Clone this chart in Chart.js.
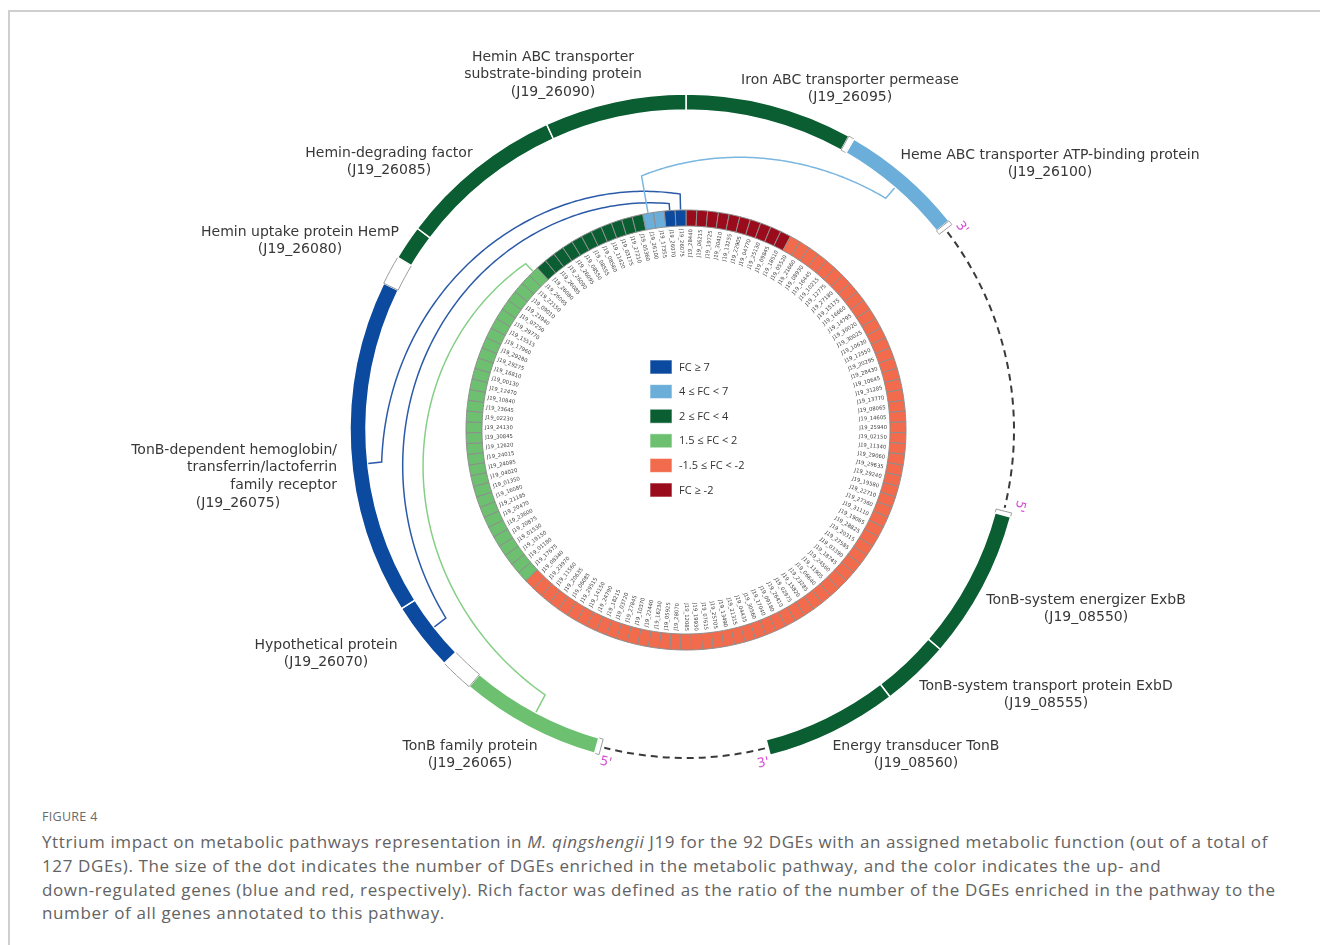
<!DOCTYPE html>
<html>
<head>
<meta charset="utf-8">
<script src="https://cdn.jsdelivr.net/npm/chart.js@4.4.1/dist/chart.umd.min.js"></script>
<style>
  html, body { margin: 0; padding: 0; background: #ffffff; }
  body { width: 1320px; height: 945px; position: relative; overflow: hidden; font-family: "Open Sans", sans-serif; }
  .frame { position: absolute; left: 8px; top: 10px; width: 1340px; height: 980px;
           border-top: 2px solid #cfcfcf; border-left: 2px solid #cfcfcf; }
  #wrap { position: absolute; left: 0; top: 0; width: 1320px; height: 800px; }
  .figno { position: absolute; left: 42px; top: 808px; font-size: 12.5px; color: #6a6a6a; letter-spacing: 0.3px; }
  .caption { position: absolute; left: 42px; top: 830px; font-size: 17px; letter-spacing: 0.62px; line-height: 23.8px; color: #636363; white-space: nowrap; }
</style>
</head>
<body>
<div class="frame"></div>
<div id="wrap"><canvas id="ring"></canvas></div>
<div class="figno">FIGURE 4</div>
<div class="caption">
Yttrium impact on metabolic pathways representation in <i>M. qingshengii</i> J19 for the 92 DGEs with an assigned metabolic function (out of a total of<br>
127 DGEs). The size of the dot indicates the number of DGEs enriched in the metabolic pathway, and the color indicates the up- and<br>
down-regulated genes (blue and red, respectively). Rich factor was defined as the ratio of the number of the DGEs enriched in the pathway to the<br>
number of all genes annotated to this pathway.
</div>

<script>
// ---------- fold-change classes ----------
const fcClasses = ['fc7', 'fc4', 'fc2', 'fc15', 'down15', 'down2'];
const fcLegend  = ['FC \u2265 7', '4 \u2264 FC < 7', '2 \u2264 FC < 4', '1.5 \u2264 FC < 2', '-1.5 \u2264 FC < -2', 'FC \u2265 -2'];
const fcColors  = { fc7: '#0b4a9e', fc4: '#6aaed9', fc2: '#0b5d32', fc15: '#6cc070', down15: '#f26b4c', down2: '#9a0b1b' };

// ---------- outer ring: gene clusters (clockwise from 12 o'clock) ----------
// span of each piece in degrees; 'gap' pieces are intergenic stretches shown dashed,
// 'blank' pieces are genes outside the DGE set.
const outerSpanDeg = [29, 1, 21.5, 0.8, 52, 0.7, 25.8, 11.8, 22.9, 29.5, 0.8, 24.4, 5.8, 11.9, 58, 5, 6, 28.6, 24.5];
const outerClass   = ['fc2', 'blank', 'fc4', 'blank', 'gap', 'blank', 'fc2', 'fc2', 'fc2', 'gap', 'blank', 'fc15', 'blank', 'fc7', 'fc7', 'blank', 'fc2', 'fc2', 'fc2'];
const outerGene    = ['J19_26095', '', 'J19_26100', '', '', '', 'J19_08550', 'J19_08555', 'J19_08560', '', '', 'J19_26065', '', 'J19_26070', 'J19_26075', '', 'J19_26080', 'J19_26085', 'J19_26090'];

// gene product names shown around the ring
const productLines = {
  'J19_26090': ['Hemin ABC transporter', 'substrate-binding protein', '(J19_26090)'],
  'J19_26095': ['Iron ABC transporter permease', '(J19_26095)'],
  'J19_26100': ['Heme ABC transporter ATP-binding protein', '(J19_26100)'],
  'J19_26085': ['Hemin-degrading factor', '(J19_26085)'],
  'J19_26080': ['Hemin uptake protein HemP', '(J19_26080)'],
  'J19_26075': ['TonB-dependent hemoglobin/', 'transferrin/lactoferrin', 'family receptor', '(J19_26075)'],
  'J19_26070': ['Hypothetical protein', '(J19_26070)'],
  'J19_26065': ['TonB family protein', '(J19_26065)'],
  'J19_08560': ['Energy transducer TonB', '(J19_08560)'],
  'J19_08555': ['TonB-system transport protein ExbD', '(J19_08555)'],
  'J19_08550': ['TonB-system energizer ExbB', '(J19_08550)']
};

// strand ends marked next to the dashed stretches
const strandEnds = [
  { text: "3'", piece: 3, edge: 'end' },
  { text: "5'", piece: 5, edge: 'start' },
  { text: "3'", piece: 8, edge: 'end' },
  { text: "5'", piece: 10, edge: 'start' }
];

// ---------- inner ring: the 127 DGEs grouped by fold change (clockwise from 12 o'clock) ----------
const genesDown2 = ['J19_28440','J19_06215','J19_19725','J19_30410','J19_13255','J19_22905','J19_04770','J19_25130','J19_09845','J19_18510'];
const genesDown15 = ['J19_05520','J19_21660','J19_08930','J19_16445','J19_10215','J19_12775','J19_27180','J19_15175','J19_16660','J19_14795',
  'J19_30020','J19_30025','J19_10630','J19_12550','J19_20295','J19_28430','J19_10645','J19_31285','J19_13770','J19_08065',
  'J19_14605','J19_25940','J19_02150','J19_11340','J19_29060','J19_29635','J19_29240','J19_19580','J19_22710','J19_27360',
  'J19_31110','J19_19065','J19_28825','J19_20315','J19_27585','J19_03390','J19_18745','J19_24560','J19_11905','J19_06640',
  'J19_23285','J19_15820','J19_02975','J19_26410','J19_09180','J19_17040','J19_30560','J19_04435','J19_21315','J19_13490',
  'J19_25705','J19_07615','J19_19930','J19_12085','J19_28070','J19_05925','J19_16230','J19_22440','J19_10370','J19_27845',
  'J19_03720','J19_18215','J19_24790','J19_14150','J19_29515','J19_06085','J19_20635','J19_11560','J19_23970','J19_08340'];
const genesFc15 = ['J19_17675','J19_01180','J19_19150','J19_01530','J19_20875','J19_23600','J19_20470','J19_21185','J19_16080','J19_01350',
  'J19_04020','J19_24085','J19_24015','J19_12620','J19_30845','J19_24130','J19_02230','J19_23645','J19_10840','J19_12470',
  'J19_00130','J19_16810','J19_29275','J19_29280','J19_17960','J19_15515','J19_29770','J19_07250','J19_21940','J19_09010',
  'J19_22150','J19_26065'];
const genesFc2 = ['J19_26080','J19_26085','J19_26090','J19_26095','J19_08550','J19_08555','J19_08560','J19_11420','J19_03175','J19_27210','J19_05360'];
const genesFc4 = ['J19_26100','J19_17355'];
const genesFc7 = ['J19_26070','J19_26075'];

// links drawn from a DGE cell to its locus on the outer ring
const linkGenes = ['J19_26075', 'J19_26070', 'J19_26100', 'J19_26065'];

// ---------- assembled tables ----------
const innerGroups = [['down2', genesDown2], ['down15', genesDown15], ['fc15', genesFc15], ['fc2', genesFc2], ['fc4', genesFc4], ['fc7', genesFc7]];
const innerIds = [], innerCls = [];
innerGroups.forEach(([c, ids]) => ids.forEach(id => { innerIds.push(id); innerCls.push(c); }));

function pieceFill(c) { return c === 'gap' ? 'rgba(0,0,0,0)' : (c === 'blank' ? '#ffffff' : fcColors[c]); }
function pieceBorder(c) { return c === 'blank' ? '#9c9c9c' : '#ffffff'; }
function pieceBorderW(c) { return c === 'gap' ? 0 : (c === 'blank' ? 1 : 1.5); }

// link routing: lanes as fractions of the space between the two rings,
// landing point as a fraction along the target locus
const linkStyle = [
  { lane: [0.16, 0.86], at: 0.45, color: '#2b5aa8' },
  { lane: [0.07, 0.85], at: 0.5, color: '#2b5aa8' },
  { lane: [0.38, 0.86], at: 0.5, color: '#7ab7e0' },
  { lane: [0.11, 0.80], at: 0.5, color: '#86cf86' }
];

// label anchors relative to the ring centre
const labelLayout = {
  'J19_26090': { dx: -133, dy: -373, align: 'center' },
  'J19_26095': { dx: 164, dy: -350, align: 'center' },
  'J19_26100': { dx: 364, dy: -275, align: 'center' },
  'J19_26085': { dx: -297, dy: -277, align: 'center' },
  'J19_26080': { dx: -386, dy: -198, align: 'center' },
  'J19_26075': { dx: -349, dy: 20, align: 'right', lastDx: -448 },
  'J19_26070': { dx: -360, dy: 215, align: 'center' },
  'J19_26065': { dx: -216, dy: 316, align: 'center' },
  'J19_08560': { dx: 230, dy: 316, align: 'center' },
  'J19_08555': { dx: 360, dy: 256, align: 'center' },
  'J19_08550': { dx: 400, dy: 170, align: 'center' }
};

const decor = {
  id: 'ringDecor',
  afterDatasetsDraw(chart) {
    const ctx = chart.ctx;
    const outer = chart.getDatasetMeta(0).data;
    const inner = chart.getDatasetMeta(2).data;
    const cx = outer[0].x, cy = outer[0].y;
    const oIn = outer[0].innerRadius, oOut = outer[0].outerRadius;
    const iOut = inner[0].outerRadius, iIn = inner[0].innerRadius;
    const mid = a => (a.startAngle + a.endAngle) / 2;
    const P = (r, a) => [cx + r * Math.cos(a), cy + r * Math.sin(a)];

    ctx.save();
    // dashed intergenic stretches
    ctx.setLineDash([7, 5]);
    ctx.lineWidth = 2;
    ctx.strokeStyle = '#3a3a3a';
    outerClass.forEach((c, i) => {
      if (c !== 'gap') return;
      const a = outer[i];
      ctx.beginPath();
      ctx.arc(cx, cy, (oIn + oOut) / 2, a.startAngle + 0.01, a.endAngle - 0.01);
      ctx.stroke();
    });
    ctx.setLineDash([]);

    // links
    linkGenes.forEach((g, k) => {
      const st = linkStyle[k];
      const e = inner[innerIds.indexOf(g)];
      const o = outer[outerGene.indexOf(g)];
      const a1 = mid(e);
      const a2raw = o.startAngle + st.at * (o.endAngle - o.startAngle);
      let d = a2raw - a1;
      while (d > Math.PI) d -= 2 * Math.PI;
      while (d < -Math.PI) d += 2 * Math.PI;
      const r1 = iOut + st.lane[0] * (oIn - iOut);
      const r2 = iOut + st.lane[1] * (oIn - iOut);
      ctx.beginPath();
      ctx.moveTo(...P(iOut + 0.5, a1));
      ctx.lineTo(...P(r1, a1));
      const n = 120;
      for (let s = 1; s <= n; s++) {
        const t = s / n;
        ctx.lineTo(...P(r1 + (r2 - r1) * t, a1 + d * t));
      }
      ctx.lineTo(...P(oIn - 0.5, a1 + d));
      ctx.strokeStyle = st.color;
      ctx.lineWidth = 1.5;
      ctx.stroke();
    });

    // gene ids inside the inner ring
    ctx.font = '5.3px "DejaVu Sans", sans-serif';
    ctx.fillStyle = '#444444';
    ctx.textBaseline = 'middle';
    inner.forEach((e, i) => {
      const a = mid(e);
      ctx.save();
      ctx.translate(cx, cy);
      if (Math.cos(a) >= -0.0001) {
        ctx.rotate(a);
        ctx.textAlign = 'right';
        ctx.fillText(innerIds[i], iIn - 3, 0);
      } else {
        ctx.rotate(a + Math.PI);
        ctx.textAlign = 'left';
        ctx.fillText(innerIds[i], -(iIn - 3), 0);
      }
      ctx.restore();
    });

    // legend in the centre
    ctx.font = '11px "Open Sans", sans-serif';
    ctx.textAlign = 'left';
    fcClasses.forEach((c, k) => {
      const y = cy - 63 + k * 24.6;
      ctx.fillStyle = fcColors[c];
      ctx.fillRect(cx - 36, y - 7, 22, 14);
      ctx.strokeStyle = 'rgba(255,255,255,0.6)';
      ctx.lineWidth = 1;
      ctx.strokeRect(cx - 36, y - 7, 22, 14);
      ctx.fillStyle = '#333333';
      ctx.fillText(fcLegend[k], cx - 7, y + 0.5);
    });

    // product names
    ctx.font = '14px "DejaVu Sans", sans-serif';
    ctx.fillStyle = '#383838';
    Object.keys(productLines).forEach(g => {
      const L = labelLayout[g];
      const lines = productLines[g];
      lines.forEach((t, j) => {
        const last = j === lines.length - 1;
        if (L.lastDx !== undefined && last) {
          ctx.textAlign = 'center';
          ctx.fillText(t, cx + L.lastDx, cy + L.dy + j * 17.7);
        } else {
          ctx.textAlign = L.align;
          ctx.fillText(t, cx + L.dx, cy + L.dy + j * 17.7);
        }
      });
    });

    // strand ends
    ctx.font = '13px "DejaVu Sans", sans-serif';
    ctx.fillStyle = '#d44fd4';
    ctx.textAlign = 'center';
    strandEnds.forEach(s => {
      const o = outer[s.piece];
      const a = s.edge === 'end' ? o.endAngle + 0.025 : o.startAngle - 0.025;
      const [x, y] = P(oOut + 6, a);
      ctx.save();
      ctx.translate(x, y);
      const deg = (a + Math.PI / 2) * 180 / Math.PI;
      ctx.rotate(deg > 150 ? a + Math.PI / 2 - Math.PI : a + Math.PI / 2);
      ctx.fillText(s.text, 0, 0);
      ctx.restore();
    });
    ctx.restore();
  }
};

new Chart(document.getElementById('ring'), {
  type: 'doughnut',
  data: {
    labels: outerGene,
    datasets: [
      {
        data: outerSpanDeg,
        backgroundColor: outerClass.map(pieceFill),
        borderColor: outerClass.map(pieceBorder),
        borderWidth: outerClass.map(pieceBorderW),
        weight: 16
      },
      {
        data: [1],
        backgroundColor: 'rgba(0,0,0,0)',
        borderWidth: 0,
        weight: 100
      },
      {
        data: innerIds.map(() => 1),
        backgroundColor: innerCls.map(c => fcColors[c]),
        borderColor: '#8e8e8e',
        borderWidth: 1,
        weight: 16
      }
    ]
  },
  options: {
    responsive: true,
    maintainAspectRatio: false,
    animation: false,
    events: [],
    radius: 336,
    cutout: (204 / 336 * 100) + '%',
    layout: { padding: { left: 52, right: 0, top: 60, bottom: 0 } },
    plugins: { legend: { display: false }, tooltip: { enabled: false }, title: { display: false } }
  },
  plugins: [decor]
});
</script>
</body>
</html>
